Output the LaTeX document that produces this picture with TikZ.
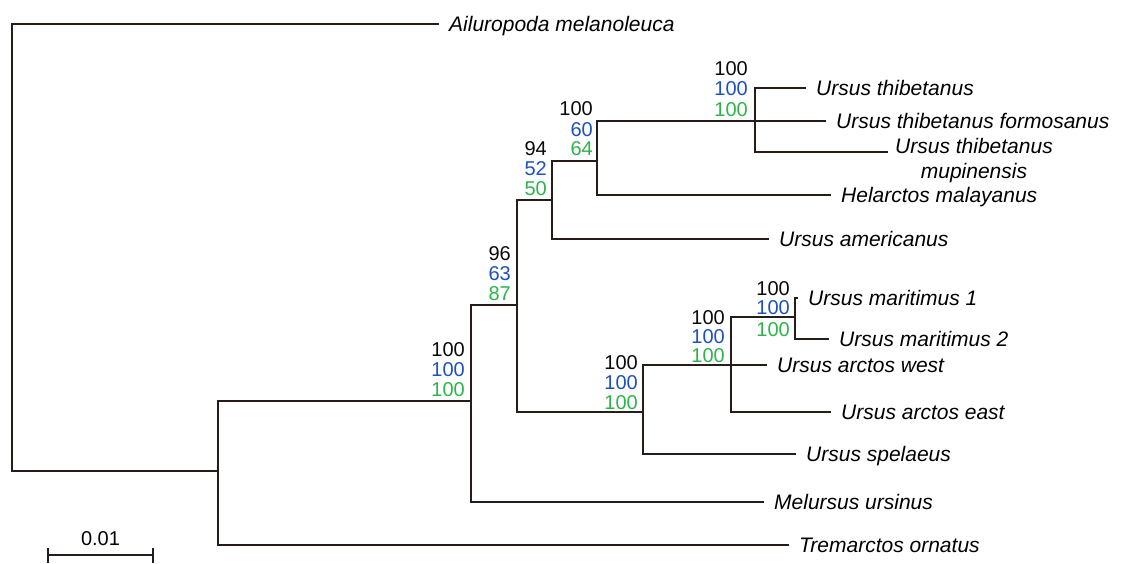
\documentclass[tikz,border=0pt]{standalone}
\usepackage{fontspec}
\setmainfont{Liberation Sans}
\usetikzlibrary{calc}

\definecolor{treeline}{RGB}{38,28,24}
\definecolor{bsblack}{RGB}{10,10,10}
\definecolor{bsblue}{RGB}{30,80,190}
\definecolor{bsgreen}{RGB}{45,180,75}

\tikzset{
  branch/.style={draw=treeline, line width=1.5pt, line cap=rect, line join=miter},
  leaf/.style={anchor=west, inner xsep=11pt, inner ysep=0pt,
    font=\fontsize{21}{25}\selectfont\itshape, text height=15pt, text depth=0pt},
  bsval/.style={anchor=east, inner sep=0pt,
    font=\fontsize{20}{20}\selectfont, text height=14.3pt, text depth=0pt},
}

% support values of one clade: name, right edge, three heights, three values
\newcommand\bootvals[8]{%
  \node[bsval, text=bsblack] (#1-k) at (#2,#3) {#6};
  \node[bsval, text=bsblue]  (#1-b) at (#2,#4) {#7};
  \node[bsval, text=bsgreen] (#1-g) at (#2,#5) {#8};}

\begin{document}
\begin{tikzpicture}[x={(1pt,0)}, y={(0,-1pt)}]
  \fill[white] (0,0) rectangle (1122,563);
  \useasboundingbox (0,0) rectangle (1122,563);

  % internal nodes (x of the vertical bar, y of the incoming branch)
  \coordinate (root) at (12,247);
  \coordinate (n218) at (218,471);
  \coordinate (n471) at (471,401);
  \coordinate (n517) at (517,305);
  \coordinate (n551) at (552,200);
  \coordinate (n597) at (597,161);
  \coordinate (n755) at (755,121);
  \coordinate (n643) at (643,412);
  \coordinate (n731) at (731,365);
  \coordinate (n795) at (795,317);

  % tips
  \node[leaf] (ailu) at (438,24)  {Ailuropoda melanoleuca};
  \node[leaf] (thib) at (805,88)  {Ursus thibetanus};
  \node[leaf] (form) at (825,121) {Ursus thibetanus formosanus};
  \coordinate (mupend) at (887,152);
  \node[anchor=north west, inner xsep=8pt, inner ysep=0pt, align=center,
        font=\fontsize{21}{25}\selectfont\itshape] (mup) at (887,138)
        {Ursus thibetanus\\mupinensis};
  \node[leaf] (hela) at (830,195) {Helarctos malayanus};
  \node[leaf] (amer) at (768,239) {Ursus americanus};
  \node[leaf] (mar1) at (797,298) {Ursus maritimus 1};
  \node[leaf] (mar2) at (828,339) {Ursus maritimus 2};
  \node[leaf] (awest) at (766,365) {Ursus arctos west};
  \node[leaf] (aeast) at (830,412) {Ursus arctos east};
  \node[leaf] (spel) at (795,454) {Ursus spelaeus};
  \node[leaf] (melu) at (763,502) {Melursus ursinus};
  \node[leaf] (trem) at (788,545) {Tremarctos ornatus};

  % branches
  \draw[branch] (root) |- (ailu.west);
  \draw[branch] (root) |- (n218);
  \draw[branch] (n218) |- (n471);
  \draw[branch] (n218) |- (trem.west);
  \draw[branch] (n471) |- (n517);
  \draw[branch] (n471) |- (melu.west);
  \draw[branch] (n517) |- (n551);
  \draw[branch] (n517) |- (n643);
  \draw[branch] (n551) |- (n597);
  \draw[branch] (n551) |- (amer.west);
  \draw[branch] (n597) |- (n755);
  \draw[branch] (n597) |- (hela.west);
  \draw[branch] (n755) |- (thib.west);
  \draw[branch] (n755) |- (form.west);
  \draw[branch] (n755) |- (mupend);
  \draw[branch] (n643) |- (n731);
  \draw[branch] (n643) |- (spel.west);
  \draw[branch] (n731) |- (n795);
  \draw[branch] (n731) |- (awest.west);
  \draw[branch] (n731) |- (aeast.west);
  \draw[branch] (n795) |- (mar1.west);
  \draw[branch] (n795) |- (mar2.west);

  % support values
  \bootvals{s755}{748}{68}{88}{109}{100}{100}{100}
  \bootvals{s597}{593}{108}{129}{148}{100}{60}{64}
  \bootvals{s551}{547}{148}{168}{188}{94}{52}{50}
  \bootvals{s517}{511}{253}{273}{293}{96}{63}{87}
  \bootvals{s471}{465}{349}{369}{389}{100}{100}{100}
  \bootvals{s643}{638}{362}{382}{402}{100}{100}{100}
  \bootvals{s731}{725}{317}{336}{355}{100}{100}{100}
  \bootvals{s795}{790}{288}{307}{329}{100}{100}{100}

  % scale bar
  \coordinate (sbl) at (48,555);
  \coordinate (sbr) at (153,555);
  \draw[branch] (sbl) -- (sbr);
  \draw[branch] ($(sbl)+(0,-6)$) -- ($(sbl)+(0,7)$);
  \draw[branch] ($(sbr)+(0,-6)$) -- ($(sbr)+(0,7)$);
  \node[bsval, anchor=center] (sblab) at (100.5,538) {0.01};
\end{tikzpicture}
\end{document}
